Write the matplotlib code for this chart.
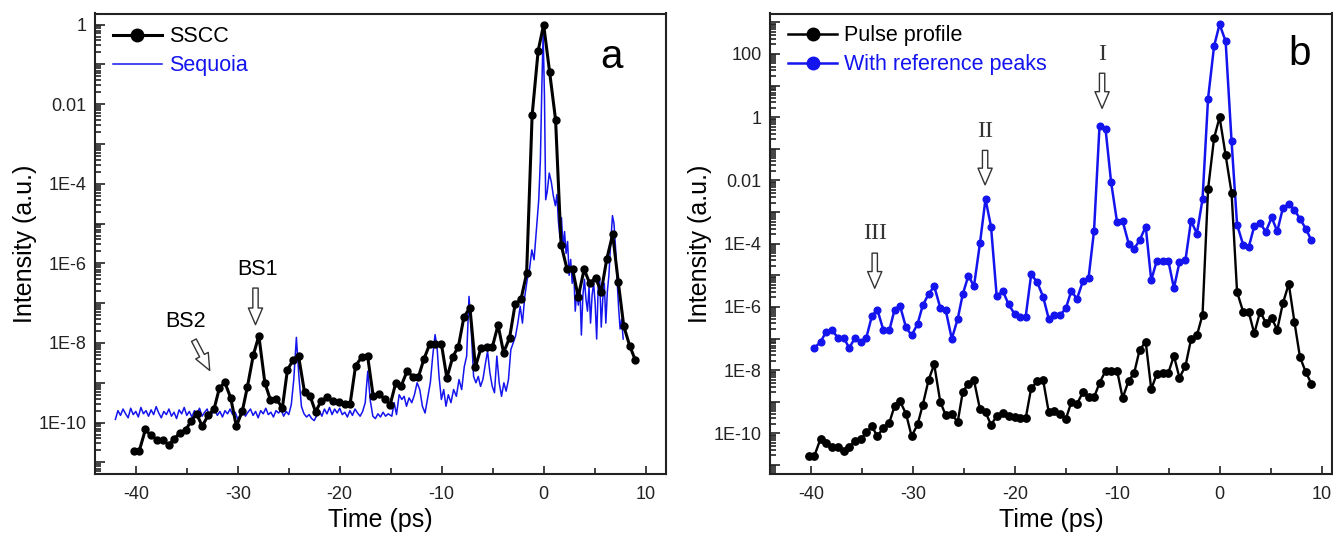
#!/usr/bin/env python3
"""
Pulse contrast measurement: SSCC vs Sequoia (a) and reference peaks (b).
"""

import numpy as np
import matplotlib
matplotlib.use("Agg")
import matplotlib.pyplot as plt
from matplotlib.lines import Line2D
from matplotlib.ticker import FixedLocator, LogLocator, MultipleLocator, FuncFormatter

plt.rcParams['font.family'] = ['Liberation Sans', 'DejaVu Sans']
plt.rcParams['axes.unicode_minus'] = False

# ---------------------------------------------------------------- data
# SSCC / pulse profile delay positions (ps)
pulse_time = [
    -40.22, -39.67, -39.05, -38.55, -37.92, -37.37, -36.79, -36.25, -35.66, -35.12,
    -34.57, -34.03, -33.49, -32.90, -32.32, -31.81, -31.27, -30.69, -30.14, -29.56,
    -29.05, -28.47, -27.93, -27.34, -26.80, -26.21, -25.63, -25.13, -24.58, -24.04,
    -23.45, -22.91, -22.37, -21.82, -21.20, -20.65, -20.07, -19.52, -18.98, -18.44,
    -17.85, -17.27, -16.72, -16.18, -15.59, -15.05, -14.51, -13.96, -13.38, -12.83,
    -12.29, -11.75, -11.16, -10.62, -10.03, -9.49, -8.90, -8.36, -7.82, -7.23,
    -6.69, -6.15, -5.56, -5.02, -4.47, -3.93, -3.34, -2.80, -2.22, -1.67,
    -1.13, -0.54, 0.00, 0.59, 1.17, 1.71, 2.30, 2.84, 3.39, 3.97,
    4.52, 5.10, 5.64, 6.19, 6.77, 7.32, 7.86, 8.44, 8.99,
]

# log10 of SSCC intensity (same trace is the "Pulse profile" in b)
pulse_log = [
    -10.72, -10.72, -10.17, -10.32, -10.43, -10.43, -10.56, -10.42, -10.25, -10.19,
    -9.96, -9.78, -10.09, -9.82, -9.66, -9.14, -8.99, -9.38, -10.09, -9.72,
    -9.10, -8.30, -7.82, -9.00, -9.43, -9.40, -9.64, -8.68, -8.43, -8.32,
    -9.24, -9.33, -9.73, -9.46, -9.36, -9.46, -9.48, -9.53, -9.53, -8.57,
    -8.36, -8.32, -9.33, -9.29, -9.40, -9.55, -9.01, -9.07, -8.70, -8.85,
    -8.86, -8.41, -8.02, -8.02, -8.02, -8.88, -8.34, -8.09, -7.35, -7.11,
    -8.60, -8.13, -8.09, -8.09, -7.55, -8.24, -7.87, -7.03, -6.90, -6.25,
    -2.28, -0.66, 0.00, -1.20, -2.39, -5.53, -6.15, -6.15, -6.84, -6.15,
    -6.50, -6.36, -6.72, -5.89, -5.27, -6.47, -7.58, -8.07, -8.43,
]

# log10 of the trace with reference peaks (starts at the 2nd delay position)
refpeak_log = [
    -7.30, -7.11, -6.81, -6.74, -6.97, -6.97, -7.30, -6.97, -7.11, -6.97,
    -6.29, -6.09, -6.74, -6.74, -6.09, -5.97, -6.65, -6.90, -6.54, -5.95,
    -5.59, -5.35, -6.02, -6.11, -7.01, -6.38, -5.59, -5.01, -5.35, -3.98,
    -2.59, -3.46, -5.64, -5.51, -5.92, -6.22, -6.32, -6.32, -4.97, -5.22,
    -5.68, -6.38, -6.27, -6.25, -6.05, -5.49, -5.75, -5.19, -5.10, -3.60,
    -0.27, -0.38, -2.05, -3.33, -3.28, -4.00, -4.16, -3.89, -3.46, -5.16,
    -4.54, -4.56, -4.54, -5.41, -4.59, -4.52, -3.28, -3.68, -2.59, 0.59,
    2.25, 2.94, 2.40, -0.76, -3.40, -4.03, -4.12, -3.45, -3.36, -3.62,
    -3.17, -3.61, -2.88, -2.74, -2.93, -3.21, -3.53, -3.90,
]

# Sequoia trace (ps, log10 intensity)
sequoia_time = [
    -42.00, -41.75, -41.50, -41.25, -41.00, -40.75, -40.50, -40.25, -40.00, -39.75,
    -39.50, -39.25, -39.00, -38.75, -38.50, -38.25, -38.00, -37.75, -37.50, -37.25,
    -37.00, -36.75, -36.50, -36.25, -36.00, -35.75, -35.50, -35.25, -35.00, -34.75,
    -34.50, -34.25, -34.00, -33.75, -33.50, -33.25, -33.00, -32.75, -32.50, -32.25,
    -32.00, -31.75, -31.50, -31.25, -31.00, -30.75, -30.50, -30.25, -30.00, -29.75,
    -29.50, -29.25, -29.00, -28.75, -28.50, -28.25, -28.00, -27.75, -27.50, -27.25,
    -27.00, -26.75, -26.50, -26.25, -26.00, -25.75, -25.50, -25.25, -25.00, -24.75,
    -24.50, -24.25, -24.00, -23.75, -23.50, -23.25, -23.00, -22.75, -22.50, -22.25,
    -22.00, -21.75, -21.50, -21.25, -21.00, -20.75, -20.50, -20.25, -20.00, -19.75,
    -19.50, -19.25, -19.00, -18.75, -18.50, -18.25, -18.00, -17.75, -17.50, -17.25,
    -17.00, -16.75, -16.50, -16.25, -16.00, -15.75, -15.50, -15.25,
    -14.89, -14.66, -14.43, -14.17, -13.91, -13.68, -13.45, -13.20, -12.93, -12.67,
    -12.41, -12.15, -11.89, -11.63, -11.37, -11.11, -10.88, -10.65, -10.46, -10.26,
    -10.03, -9.80, -9.58, -9.35, -9.09, -8.83, -8.56, -8.30, -8.04, -7.78,
    -7.55, -7.32, -7.10, -6.87, -6.64, -6.41, -6.19, -5.96, -5.70, -5.50,
    -5.27, -5.04, -4.82, -4.59, -4.36, -4.13, -3.90, -3.68, -3.45, -3.22,
    -2.99, -2.76, -2.53, -2.30, -2.08, -1.85, -1.62, -1.39, -1.16, -0.94,
    -0.71, -0.48, -0.32, -0.18, -0.05, 0.08, 0.20,
    0.35, 0.55, 0.75, 0.95, 1.15, 1.30, 1.45, 1.60, 1.75, 1.90,
    2.05, 2.20, 2.35, 2.50, 2.65, 2.80, 2.95, 3.10, 3.25, 3.40,
    3.55, 3.70, 3.85, 4.00, 4.15, 4.30, 4.45, 4.60, 4.75, 4.90,
    5.05, 5.20, 5.35, 5.50, 5.65, 5.80, 5.95, 6.10, 6.25, 6.40,
    6.55, 6.75, 6.90, 7.05, 7.20, 7.35, 7.50, 7.65, 7.80,
]
sequoia_log = [
    -9.92, -9.70, -9.82, -9.66, -9.78, -9.88, -9.64, -9.80, -9.72, -9.86,
    -9.62, -9.78, -9.70, -9.84, -9.68, -9.80, -9.60, -9.76, -9.88, -9.72,
    -9.80, -9.66, -9.84, -9.74, -9.90, -9.68, -9.78, -9.62, -9.82, -9.72,
    -9.86, -9.70, -9.78, -9.64, -9.84, -9.74, -9.66, -9.88, -9.76, -9.68,
    -9.82, -9.72, -9.86, -9.70, -9.78, -9.66, -9.80, -9.74, -9.92, -9.80,
    -9.70, -9.84, -9.74, -9.66, -9.82, -9.72, -9.88, -9.70, -9.78, -9.64,
    -9.80, -9.74, -9.86, -9.70, -9.76, -9.68, -9.84, -9.72, -9.80, -9.55,
    -8.90, -7.86, -8.85, -9.60, -9.78, -9.86, -9.80, -9.90, -9.95, -9.82,
    -9.70, -9.84, -9.66, -9.78, -9.62, -9.80, -9.66, -9.76, -9.64, -9.80,
    -9.74, -9.86, -9.70, -9.82, -9.66, -9.76, -9.84, -9.72, -9.50, -8.71,
    -9.45, -9.84, -9.90, -9.78, -9.86, -9.74, -9.84, -9.78,
    -9.84, -9.50, -9.80, -9.30, -9.42, -9.34, -9.59, -9.38, -9.50, -9.30,
    -9.00, -9.17, -9.59, -9.76, -9.38, -8.99, -8.33, -7.79, -8.08, -8.84,
    -9.42, -9.17, -9.59, -9.30, -9.50, -9.17, -9.34, -8.92, -9.17, -8.59,
    -8.33, -6.83, -7.67, -8.84, -9.00, -8.84, -9.09, -8.92, -8.50, -8.21,
    -8.75, -9.09, -9.25, -8.33, -9.00, -9.34, -9.00, -9.21, -8.92, -8.17,
    -8.00, -7.83, -7.50, -7.08, -7.50, -6.83, -6.42, -6.16, -5.66, -5.91,
    -5.16, -4.40, -3.40, -1.60, -0.22, -1.80, -4.40,
    -4.20, -3.73, -3.95, -4.30, -4.55, -4.27, -4.95, -5.35, -4.85, -5.60,
    -5.20, -5.75, -5.45, -6.30, -5.90, -6.50, -6.20, -7.20, -6.70, -7.05,
    -6.60, -7.80, -6.80, -6.40, -6.90, -7.20, -6.60, -7.50, -6.80, -6.50,
    -7.00, -7.90, -6.60, -6.40, -7.60, -6.90, -6.50, -7.50, -6.70, -6.30,
    -5.60, -4.80, -5.00, -5.60, -6.40, -7.10, -7.65, -7.40, -7.90,
]

BLUE = '#1414ee'
SERIF = ['Liberation Serif', 'DejaVu Serif']
ARROW = 'simple,head_length=1.0,head_width=0.85,tail_width=0.32'


def log_label(val, pos):
    """Origin-like labels: only every second decade, 1E-n style."""
    e = int(round(np.log10(val)))
    if e % 2:
        return ''
    if e >= 0:
        return f'{10 ** e:d}'
    if e == -2:
        return '0.01'
    return f'1E{e}'


def style_axes(ax, ylim, xlim):
    ax.set_yscale('log')
    ax.set_xlim(*xlim)
    ax.set_ylim(*ylim)
    ax.yaxis.set_major_locator(FixedLocator(10.0 ** np.arange(-12, 5)))
    ax.yaxis.set_minor_locator(LogLocator(base=10, subs=np.arange(2, 10), numticks=60))
    ax.yaxis.set_major_formatter(FuncFormatter(log_label))
    ax.yaxis.set_minor_formatter(FuncFormatter(lambda v, p: ''))
    ax.xaxis.set_major_locator(MultipleLocator(10))
    ax.xaxis.set_minor_locator(MultipleLocator(5))
    ax.tick_params(which='both', direction='in', top=False, right=False,
                   labelsize=13, width=1.2, colors='#222222')
    ax.tick_params(axis='y', which='major', length=7, pad=6)
    ax.tick_params(axis='y', which='minor', length=4)
    ax.tick_params(axis='x', which='major', length=6, pad=9)
    ax.tick_params(axis='x', which='minor', length=4)
    for s in ax.spines.values():
        s.set_linewidth(1.5)
        s.set_color('#222222')
    ax.set_xlabel('Time (ps)', fontsize=18)
    ax.set_ylabel('Intensity (a.u.)', fontsize=18)
    ax.xaxis.set_label_coords(0.5, -0.075)


def hollow_arrow(ax, tail, tip):
    ax.annotate('', xy=tip, xytext=tail,
                arrowprops=dict(arrowstyle=ARROW, fc='white', ec='#333333', lw=1.0,
                                mutation_scale=12, shrinkA=0, shrinkB=0))


def main():
    t = np.array(pulse_time)
    pulse = 10.0 ** np.array(pulse_log)
    refpk = 10.0 ** np.array(refpeak_log)
    seq_t = np.array(sequoia_time)
    seq = 10.0 ** np.array(sequoia_log)

    fig = plt.figure(figsize=(13.33, 5.36), dpi=100)
    ax_a = fig.add_axes([95 / 1333, 1 - 473.5 / 536, 571 / 1333, 460 / 536])
    ax_b = fig.add_axes([770 / 1333, 1 - 473.5 / 536, 562 / 1333, 460 / 536])

    # ---- panel a
    ax_a.plot(seq_t, seq, color=BLUE, lw=1.1, zorder=2)
    ax_a.plot(t, pulse, color='black', lw=2.2, marker='o', ms=5, zorder=3)
    style_axes(ax_a, (10 ** -11.28, 10 ** 0.28), (-44, 12))
    ax_a.yaxis.set_label_coords(-0.102, 0.5)

    handles = [Line2D([], [], color='black', lw=2.2, marker='o', ms=9),
               Line2D([], [], color=BLUE, lw=1.1)]
    leg = ax_a.legend(handles, ['SSCC', 'Sequoia'], loc='upper left',
                      bbox_to_anchor=(0.031, 0.972), borderaxespad=0, borderpad=0,
                      frameon=False, fontsize=15.5, handlelength=2.3,
                      handletextpad=0.3, labelspacing=0.36)
    leg.get_texts()[1].set_color(BLUE)

    ax_a.text(0.905, 0.905, 'a', transform=ax_a.transAxes, fontsize=29,
              ha='center', va='center')
    ax_a.text(-28.1, 10 ** -6.16, 'BS1', fontsize=15.5, ha='center', va='center')
    hollow_arrow(ax_a, (-28.26, 10 ** -6.62), (-28.26, 10 ** -7.54))
    ax_a.text(-35.1, 10 ** -7.45, 'BS2', fontsize=15.5, ha='center', va='center')
    hollow_arrow(ax_a, (-34.3, 10 ** -7.93), (-32.75, 10 ** -8.69))

    # ---- panel b
    ax_b.plot(t[1:], refpk, color=BLUE, lw=1.8, marker='o', ms=4.8, zorder=2)
    ax_b.plot(t, pulse, color='black', lw=1.7, marker='o', ms=5.3, zorder=3)
    style_axes(ax_b, (10 ** -11.27, 10 ** 3.28), (-44, 11))
    ax_b.yaxis.set_label_coords(-0.103, 0.5)

    handles = [Line2D([], [], color='black', lw=1.8, marker='o', ms=9),
               Line2D([], [], color=BLUE, lw=1.8, marker='o', ms=9)]
    leg = ax_b.legend(handles, ['Pulse profile', 'With reference peaks'], loc='upper left',
                      bbox_to_anchor=(0.032, 0.974), borderaxespad=0, borderpad=0,
                      frameon=False, fontsize=15.5, handlelength=2.3,
                      handletextpad=0.3, labelspacing=0.36)
    leg.get_texts()[1].set_color(BLUE)

    ax_b.text(0.943, 0.912, 'b', transform=ax_b.transAxes, fontsize=29,
              ha='center', va='center')

    ax_b.text(-11.5, 10 ** 1.97, 'I', family=SERIF, fontsize=17.5, color='#333333',
              ha='center', va='center')
    hollow_arrow(ax_b, (-11.5, 10 ** 1.39), (-11.5, 10 ** 0.28))
    ax_b.text(-22.95, 10 ** -0.45, 'II', family=SERIF, fontsize=17.5, color='#333333',
              ha='center', va='center')
    hollow_arrow(ax_b, (-22.95, 10 ** -1.05), (-22.95, 10 ** -2.14))
    ax_b.text(-33.75, 10 ** -3.67, 'III', family=SERIF, fontsize=17.5, color='#333333',
              ha='center', va='center')
    hollow_arrow(ax_b, (-33.75, 10 ** -4.30), (-33.75, 10 ** -5.41))

    fig.savefig('out.png', dpi=100)


if __name__ == '__main__':
    main()
